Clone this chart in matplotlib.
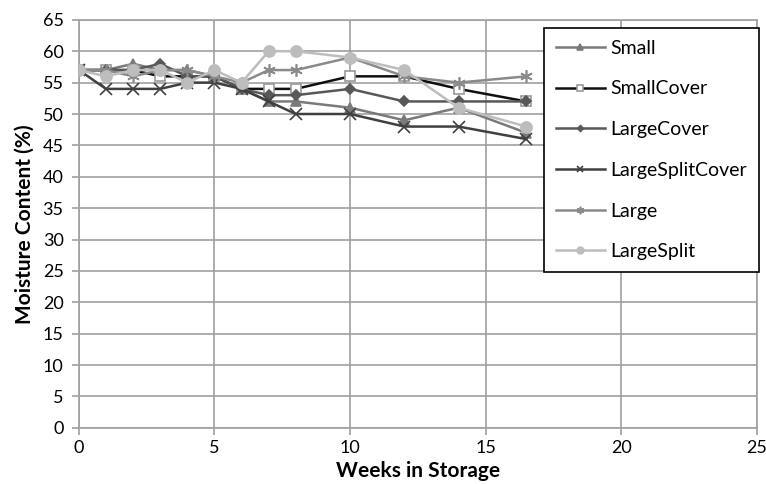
import matplotlib as mpl
import matplotlib.pyplot as plt

mpl.rcParams['font.family'] = ['Lato', 'DejaVu Sans']

weeks = [0, 1, 2, 3, 4, 5, 6, 7, 8, 10, 12, 14, 16.5]

small = [57, 57, 58, 57, 57, 56, 54, 52, 52, 51, 49, 51, 47]
small_cover = [57, 57, 57, 56, 56, 56, 54, 54, 54, 56, 56, 54, 52]
large_cover = [57, 57, 57, 58, 56, 56, 54, 53, 53, 54, 52, 52, 52]
large_split_cover = [57, 54, 54, 54, 55, 55, 54, 52, 50, 50, 48, 48, 46]
large = [57, 57, 56, 57, 57, 56, 55, 57, 57, 59, 56, 55, 56]
large_split = [57, 56, 57, 57, 55, 57, 55, 60, 60, 59, 57, 51, 48]

series = [
    ('Small', small, '#7a7a7a', '^', '#7a7a7a', 7),
    ('SmallCover', small_cover, '#101010', 's', 'white', 7),
    ('LargeCover', large_cover, '#585858', 'D', '#585858', 5),
    ('LargeSplitCover', large_split_cover, '#404040', 'x', '#404040', 8),
    ('Large', large, '#8a8a8a', (6, 2, 0), '#8a8a8a', 9),
    ('LargeSplit', large_split, '#bdbdbd', 'o', '#bdbdbd', 8),
]

fig = plt.figure(figsize=(7.66, 4.84), dpi=100)
ax = fig.add_axes([0.103, 0.116, 0.885, 0.843])

for name, vals, col, mk, face, ms in series:
    edge = '#999999' if mk == 's' else col
    ax.plot(weeks, vals, color=col, lw=1.8, marker=mk, ms=ms,
            mfc=face, mec=edge, mew=1.2, label=name, zorder=3)

ax.set_xlim(0, 25)
ax.set_ylim(0, 65)
ax.set_xticks(range(0, 26, 5))
ax.set_yticks(range(0, 66, 5))
ax.grid(True, color='#a0a0a0', lw=1.2, zorder=0)
for s in ax.spines.values():
    s.set_color('#a0a0a0')
    s.set_linewidth(1.2)
ax.tick_params(labelsize=13, color='#a0a0a0', length=5, width=1.2)
ax.tick_params(axis='y', pad=6)

ax.set_xlabel('Weeks in Storage', fontsize=15, fontweight='bold', labelpad=4)
ax.set_ylabel('Moisture Content (%)', fontsize=15, fontweight='bold', labelpad=6)

leg = ax.legend(loc='upper right', bbox_to_anchor=(1.003, 0.98), borderaxespad=0,
                fontsize=14, fancybox=False, framealpha=1, edgecolor='black',
                handlelength=2.5, labelspacing=1.22, borderpad=0.6,
                handletextpad=0.3, markerscale=0.6)
leg.get_frame().set_linewidth(1.2)

fig.savefig('out.png', dpi=100)
